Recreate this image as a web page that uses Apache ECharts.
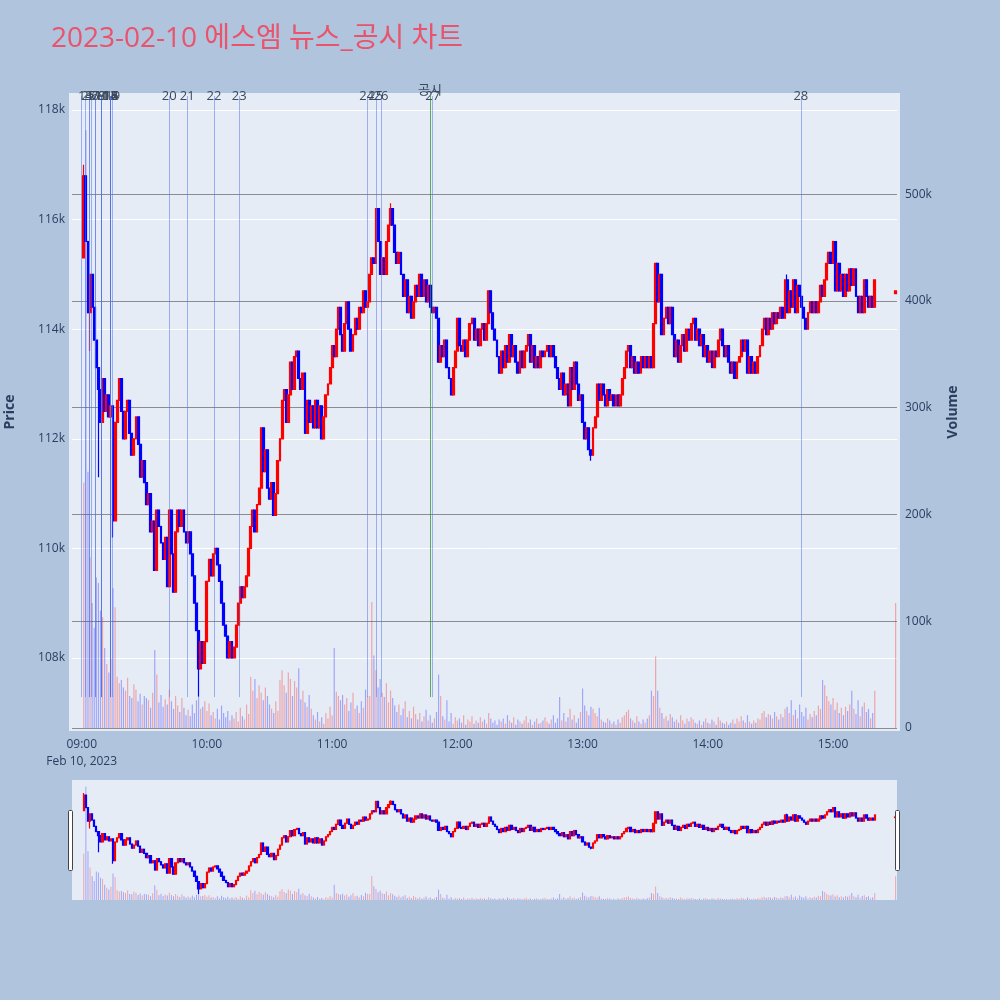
<!DOCTYPE html>
<html>
<head>
<meta charset="utf-8">
<title>2023-02-10 에스엠 뉴스_공시 차트</title>
<script src="https://cdn.jsdelivr.net/npm/echarts@6/dist/echarts.min.js"></script>
<style>
  html, body { margin: 0; padding: 0; background: #b0c4de; }
  #chart { width: 1000px; height: 1000px; }
</style>
</head>
<body>
<div id="chart"></div>
<script>
// minute bars 09:01 .. 15:20, then the 15:30 closing auction
const firstBar = '09:01';
const barCount = 380;
const closingAuction = '15:30';

const opens = [
  115300,116800,115600,114300,115000,114400,113800,113300,112900,112300,
  113100,112500,112800,112400,112600,110500,112300,112700,113100,112500,
  112000,112500,112700,112100,111700,112000,112400,111900,111300,111600,
  111200,110800,111000,110300,110500,109600,110700,110400,110100,109800,
  110200,109300,110700,109900,109200,110300,110700,110400,110700,110300,
  110100,110300,109900,109500,109000,108500,107800,108300,107900,108300,
  109400,109800,109500,109900,110000,109700,109400,109000,108600,108400,
  108000,108300,108000,108200,108600,109000,109300,109100,109300,109500,
  110000,110400,110700,110300,110800,111100,112200,111400,111800,111100,
  110900,111200,110600,111000,111600,112000,112700,112900,112300,112800,
  113400,112900,113500,113600,113100,112900,113200,112100,112700,112300,
  112600,112200,112700,112200,112600,112000,112400,112800,113000,113300,
  113700,113500,114000,114400,113900,113600,114100,114500,114000,113600,
  113900,114200,114000,114400,114300,114700,114400,114500,115000,115300,
  115200,116200,115600,115000,115300,115000,115600,115900,116200,115900,
  115400,115200,115400,115000,114600,114900,114300,114600,114200,114500,
  114800,114600,115000,114600,114900,114500,114800,114400,114300,114400,
  114200,113400,113700,113500,113800,113300,113100,112800,113300,113600,
  114200,113700,113600,113800,113500,113800,114100,114200,113800,114000,
  113700,114000,114100,113800,114100,114700,114300,114000,113800,113500,
  113200,113600,113300,113700,113400,113900,113500,113700,113400,113200,
  113600,113300,113600,113700,113900,113400,113700,113300,113500,113300,
  113600,113500,113600,113700,113500,113700,113500,113300,113100,112900,
  113200,112800,113000,112600,113300,112900,113400,113000,112700,112800,
  112300,112000,112200,111800,111700,112200,112400,113000,112700,113000,
  112800,112600,112900,112700,112800,112600,112800,112600,112800,113100,
  113300,113600,113700,113300,113500,113200,113400,113200,113500,113300,
  113500,113300,113500,113300,114100,115200,114500,115000,113900,114200,
  114400,114100,114400,113900,113500,113800,113400,113700,113900,113600,
  114000,113800,114100,114200,113800,114000,113700,113900,113500,113700,
  113400,113600,113300,113600,113500,113800,114000,113700,113500,113700,
  113400,113200,113400,113100,113400,113500,113800,113600,113800,113200,
  113500,113200,113400,113200,113500,113700,114000,114200,113900,114200,
  114000,114300,114100,114300,114200,114400,114200,114900,114300,114700,
  114400,114900,114300,114800,114600,114400,114200,114000,114300,114500,
  114300,114500,114300,114500,114800,114600,114900,115200,115400,115200,
  115600,114700,115200,114700,115000,114600,115000,114700,115100,114800,
  115100,114600,114300,114600,114300,114900,114600,114400,114600,114400,
  114650
];

const closes = [
  116800,115600,114300,115000,114400,113800,113300,112900,112300,113100,
  112500,112800,112400,112600,110500,112300,112700,113100,112500,112000,
  112500,112700,112100,111700,112000,112400,111900,111300,111600,111200,
  110800,111000,110300,110500,109600,110700,110400,110100,109800,110200,
  109300,110700,109900,109200,110300,110700,110400,110700,110300,110100,
  110300,109900,109500,109000,108500,107800,108300,107900,108300,109400,
  109800,109500,109900,110000,109700,109400,109000,108600,108400,108000,
  108300,108000,108200,108600,109000,109300,109100,109300,109500,110000,
  110400,110700,110300,110800,111100,112200,111400,111800,111100,110900,
  111200,110600,111000,111600,112000,112700,112900,112300,112800,113400,
  112900,113500,113600,113100,112900,113200,112100,112700,112300,112600,
  112200,112700,112200,112600,112000,112400,112800,113000,113300,113700,
  113500,114000,114400,113900,113600,114100,114500,114000,113600,113900,
  114200,114000,114400,114300,114700,114400,114500,115000,115300,115200,
  116200,115600,115000,115300,115000,115600,115900,116200,115900,115400,
  115200,115400,115000,114600,114900,114300,114600,114200,114500,114800,
  114600,115000,114600,114900,114500,114800,114400,114300,114400,114200,
  113400,113700,113500,113800,113300,113100,112800,113300,113600,114200,
  113700,113600,113800,113500,113800,114100,114200,113800,114000,113700,
  114000,114100,113800,114100,114700,114300,114000,113800,113500,113200,
  113600,113300,113700,113400,113900,113500,113700,113400,113200,113600,
  113300,113600,113700,113900,113400,113700,113300,113500,113300,113600,
  113500,113600,113700,113500,113700,113500,113300,113100,112900,113200,
  112800,113000,112600,113300,112900,113400,113000,112700,112800,112300,
  112000,112200,111800,111700,112200,112400,113000,112700,113000,112800,
  112600,112900,112700,112800,112600,112800,112600,112800,113100,113300,
  113600,113700,113300,113500,113200,113400,113200,113500,113300,113500,
  113300,113500,113300,114100,115200,114500,115000,113900,114200,114400,
  114100,114400,113900,113500,113800,113400,113700,113900,113600,114000,
  113800,114100,114200,113800,114000,113700,113900,113500,113700,113400,
  113600,113300,113600,113500,113800,114000,113700,113500,113700,113400,
  113200,113400,113100,113400,113500,113800,113600,113800,113200,113500,
  113200,113400,113200,113500,113700,114000,114200,113900,114200,114000,
  114300,114100,114300,114200,114400,114200,114900,114300,114700,114400,
  114900,114300,114800,114600,114400,114200,114000,114300,114500,114300,
  114500,114300,114500,114800,114600,114900,115200,115400,115200,115600,
  114700,115200,114700,115000,114600,115000,114700,115100,114800,115100,
  114600,114300,114600,114300,114900,114600,114400,114600,114400,114900,
  114700
];

// wicks that reach past the candle body
const lowWickTimes = ['09:04', '09:08', '09:15', '09:56', '13:04'];
const lowWickValues = [113600, 111300, 110200, 107300, 111600];
const highWickTimes = ['09:01', '11:28', '14:38'];
const highWickValues = [117000, 116300, 115000];

const volumes = [
  230000,560000,240000,160000,117000,94000,141000,136000,110000,104000,
  75000,60000,52000,65000,131000,113000,48000,42000,45000,38000,
  35000,47000,30000,28000,41000,36000,25000,32000,22000,30000,
  28000,26000,19000,33000,73000,50000,24000,31000,20000,27000,
  22000,36000,25000,18000,30000,21000,15000,28000,19000,12000,
  17000,11000,22000,14000,26000,30000,18000,20000,25000,16000,
  23000,12000,15000,9000,18000,8000,21000,14000,10000,16000,
  7000,12000,9000,15000,6000,19000,11000,8000,22000,13000,
  48000,35000,46000,28000,40000,33000,26000,38000,30000,22000,
  18000,14000,25000,16000,45000,54000,40000,33000,52000,46000,
  30000,44000,38000,56000,27000,35000,24000,20000,31000,18000,
  12000,8000,15000,6000,10000,4000,14000,9000,20000,12000,
  75000,34000,30000,26000,31000,22000,28000,16000,24000,33000,
  18000,21000,14000,25000,19000,36000,30000,30000,118000,68000,
  54000,38000,46000,33000,29000,42000,24000,35000,28000,21000,
  15000,22000,12000,18000,25000,10000,16000,9000,20000,13000,
  8000,14000,6000,11000,17000,7000,12000,5000,9000,15000,
  50000,30000,11000,8000,26000,6000,14000,4000,10000,7000,
  9000,5000,12000,3000,8000,6000,11000,4000,7000,5000,
  10000,6000,8000,4000,14000,9000,5000,7000,3000,8000,
  6000,9000,4000,12000,7000,5000,10000,3000,8000,6000,
  4000,7000,11000,5000,8000,3000,6000,9000,4000,5000,
  7000,10000,6000,4000,8000,12000,5000,9000,29000,7000,
  14000,6000,10000,18000,8000,12000,5000,9000,15000,37000,
  21000,16000,12000,20000,18000,14000,11000,19000,8000,6000,
  5000,9000,7000,4000,6000,3000,8000,5000,10000,12000,
  15000,17000,9000,7000,5000,11000,6000,4000,8000,5000,
  9000,12000,35000,30000,67000,35000,19000,14000,9000,11000,
  7000,13000,10000,6000,8000,5000,12000,7000,4000,9000,
  6000,10000,8000,5000,4000,7000,3000,6000,9000,5000,
  4000,8000,6000,3000,10000,7000,5000,4000,6000,3000,
  5000,8000,4000,9000,6000,11000,7000,5000,12000,6000,
  4000,7000,5000,9000,8000,14000,16000,10000,13000,12000,
  9000,15000,11000,8000,13000,10000,18000,20000,14000,26000,
  12000,17000,9000,22000,15000,11000,19000,8000,13000,10000,
  16000,12000,21000,18000,45000,40000,30000,25000,22000,28000,
  17000,24000,14000,19000,12000,20000,16000,22000,35000,18000,
  13000,26000,11000,20000,24000,15000,18000,9000,14000,35000,
  117000
];

// news (numbered) and disclosure (공시) timestamps
const newsTimes = [
  '09:00:00','09:01:35','09:03:30','09:03:30','09:04:48','09:06:22','09:06:22',
  '09:09:35','09:09:35','09:09:35','09:09:35','09:13:54','09:13:54','09:13:54',
  '09:13:54','09:13:54','09:13:54','09:13:54','09:14:51',
  '09:41:58','09:50:36','10:03:24','10:15:30','11:16:36','11:20:54','11:23:24',
  '11:48:12','14:44:36'
];
const newsLabels = newsTimes.map((t, i) => String(i + 1));
const disclosureTimes = ['11:46:54'];
const disclosureLabels = ['공시'];

const hourTicks = ['09:00', '10:00', '11:00', '12:00', '13:00', '14:00', '15:00'];
const dateLabel = 'Feb 10, 2023';

// ---------------------------------------------------------------------------

const pad = n => String(n).padStart(2, '0');
const toMin = s => {
  const [h, m, sec] = s.split(':').map(Number);
  return (h - 9) * 60 + m + (sec || 0) / 60;
};

const times = [];
for (let m = toMin(firstBar); m < toMin(firstBar) + barCount; m++) {
  times.push(pad(9 + Math.floor(m / 60)) + ':' + pad(m % 60));
}
times.push(closingAuction);

const xs = times.map(toMin);
const lows = opens.map((o, i) => Math.min(o, closes[i]));
const highs = opens.map((o, i) => Math.max(o, closes[i]));
lowWickTimes.forEach((t, k) => { lows[times.indexOf(t)] = lowWickValues[k]; });
highWickTimes.forEach((t, k) => { highs[times.indexOf(t)] = highWickValues[k]; });

const candleData = xs.map((x, i) => [x, opens[i], closes[i], lows[i], highs[i]]);
const volumeData = xs.map((x, i) => ({
  value: [x, volumes[i]],
  itemStyle: { color: closes[i] >= opens[i] ? 'rgba(255,0,0,0.3)' : 'rgba(0,0,255,0.3)' }
}));

const X_MIN = -4.65, X_MAX = 390.66;
const P_MIN = 106723, P_MAX = 118255;
const V_MAX = 592000;
const LINE_FOOT = 29000; // vertical markers stop just above the volume bars

const textColor = '#2a3f5f';
const fontFamily = '"Open Sans", "Noto Sans CJK KR", sans-serif';

const markerLines = [];
newsTimes.forEach((t, i) => {
  markerLines.push([
    {
      coord: [toMin(t), LINE_FOOT],
      lineStyle: { color: 'rgba(80,110,230,0.5)', width: 1, type: 'solid' },
      label: { show: true, position: 'end', distance: -7, formatter: newsLabels[i],
               color: '#3b4a5e', fontSize: 13, fontFamily: fontFamily }
    },
    { coord: [toMin(t), V_MAX] }
  ]);
});
disclosureTimes.forEach((t, i) => {
  markerLines.push([
    {
      coord: [toMin(t), LINE_FOOT],
      lineStyle: { color: 'rgba(40,150,40,0.75)', width: 1, type: 'solid' },
      label: { show: true, position: 'end', distance: -1, formatter: disclosureLabels[i],
               color: '#3b4a5e', fontSize: 13, fontFamily: fontFamily }
    },
    { coord: [toMin(t), V_MAX] }
  ]);
});

const candleStyle = {
  color: '#ff0000', color0: '#0000ff',
  borderColor: '#ff0000', borderColor0: '#0000ff',
  borderWidth: 1.2
};

const chart = echarts.init(document.getElementById('chart'));

chart.setOption({
  animation: false,
  backgroundColor: '#b0c4de',
  textStyle: { fontFamily: fontFamily },
  title: {
    text: '2023-02-10 에스엠 뉴스_공시 차트',
    left: 46,
    top: 20,
    textStyle: { color: '#e9536b', fontSize: 28, fontWeight: 'normal', fontFamily: fontFamily }
  },
  grid: [
    { left: 72, right: 103, top: 96, bottom: 272, show: true, outerBoundsMode: 'none',
      containLabel: false,
      backgroundColor: '#e5ecf6', borderColor: '#e5ecf6', borderWidth: 6 },
    { left: 72, right: 103, top: 780, bottom: 100, show: true, outerBoundsMode: 'none',
      containLabel: false,
      backgroundColor: '#e5ecf6', borderWidth: 0 }
  ],
  xAxis: [
    {
      type: 'value', gridIndex: 0, min: X_MIN, max: X_MAX,
      axisLine: { show: false }, axisTick: { show: false }, splitLine: { show: false },
      axisLabel: {
        customValues: hourTicks.map(toMin),
        margin: 8,
        color: textColor,
        fontSize: 12,
        lineHeight: 17,
        formatter: v => {
          const label = pad(9 + Math.round(v / 60)) + ':00';
          return v === 0 ? label + '\n' + dateLabel : label;
        }
      }
    },
    {
      type: 'value', gridIndex: 1, min: X_MIN, max: X_MAX, show: false,
      splitLine: { show: false }
    }
  ],
  yAxis: [
    {
      type: 'value', gridIndex: 0, position: 'left', min: P_MIN, max: P_MAX, splitNumber: 5,
      name: 'Price', nameLocation: 'middle', nameGap: 55, nameRotate: 90,
      nameTextStyle: { color: textColor, fontSize: 14, fontWeight: 'bold' },
      axisLine: { show: false }, axisTick: { show: false },
      axisLabel: {
        color: textColor, fontSize: 12, margin: 7,
        showMinLabel: false, showMaxLabel: false,
        formatter: v => (v / 1000) + 'k'
      },
      splitLine: { show: true, showMinLine: false, showMaxLine: false,
                   lineStyle: { color: '#ffffff', width: 1 } }
    },
    {
      type: 'value', gridIndex: 0, position: 'right', min: 0, max: V_MAX, splitNumber: 5,
      name: 'Volume', nameLocation: 'middle', nameGap: 49, nameRotate: 90,
      nameTextStyle: { color: textColor, fontSize: 14, fontWeight: 'bold' },
      axisLine: { show: false }, axisTick: { show: false },
      axisLabel: {
        color: textColor, fontSize: 12, margin: 8, showMaxLabel: false,
        formatter: v => (v === 0 ? '0' : (v / 1000) + 'k')
      },
      splitLine: { show: true, showMinLine: true, showMaxLine: false,
                   lineStyle: { color: 'rgba(110,110,110,0.75)', width: 1.2 } }
    },
    {
      type: 'value', gridIndex: 1, min: P_MIN, max: P_MAX, show: false,
      splitLine: { show: false }
    },
    {
      type: 'value', gridIndex: 1, min: 0, max: V_MAX, show: false,
      splitLine: { show: false }
    }
  ],
  series: [
    {
      name: 'Volume', type: 'bar', xAxisIndex: 0, yAxisIndex: 1,
      data: volumeData, barWidth: 1.2, z: 2, silent: true,
      markLine: { silent: true, symbol: ['none', 'none'], animation: false, data: markerLines }
    },
    {
      name: 'Price', type: 'candlestick', xAxisIndex: 0, yAxisIndex: 0,
      data: candleData,
      dimensions: ['t', 'open', 'close', 'lowest', 'highest'],
      encode: { x: 0, y: [1, 2, 3, 4] },
      barWidth: 2.4, z: 3,
      itemStyle: candleStyle
    },
    {
      type: 'bar', xAxisIndex: 1, yAxisIndex: 3,
      data: volumeData, barWidth: 1, z: 2, silent: true
    },
    {
      type: 'candlestick', xAxisIndex: 1, yAxisIndex: 2,
      data: candleData,
      dimensions: ['t', 'open', 'close', 'lowest', 'highest'],
      encode: { x: 0, y: [1, 2, 3, 4] },
      barWidth: 1.8, z: 3, silent: true,
      itemStyle: candleStyle
    }
  ],
  graphic: [
    { type: 'rect', left: 68, top: 810, z: 10,
      shape: { width: 4, height: 60, r: 1 },
      style: { fill: '#ffffff', stroke: '#444444', lineWidth: 1 } },
    { type: 'rect', left: 895, top: 810, z: 10,
      shape: { width: 4, height: 60, r: 1 },
      style: { fill: '#ffffff', stroke: '#444444', lineWidth: 1 } }
  ]
});
</script>
</body>
</html>
